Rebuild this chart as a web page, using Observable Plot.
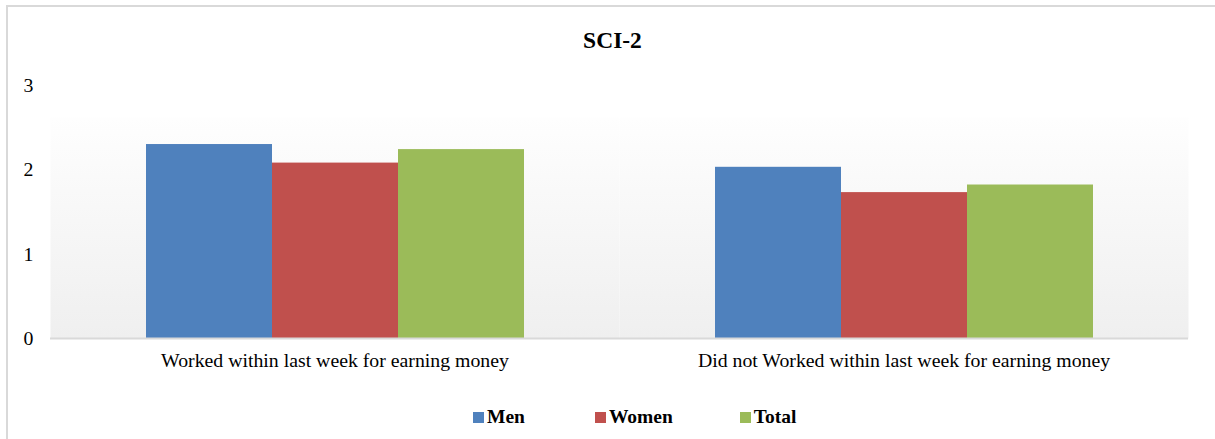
<!DOCTYPE html>
<html>
<head>
<meta charset="utf-8">
<script src="https://cdn.jsdelivr.net/npm/d3@7"></script>
<script src="https://cdn.jsdelivr.net/npm/@observablehq/plot@0.6"></script>
<style>
  body { margin: 0; background: #fff; overflow: hidden; }
  #wrap { position: relative; width: 1215px; height: 439px; overflow: hidden;
          font-family: "Liberation Serif", "Times New Roman", serif; color: #000; }
  #border { position: absolute; left: 6px; top: 5px; width: 1230px; height: 460px;
            border: 2px solid #d9d9d9; box-sizing: border-box; }
  #title { position: absolute; top: 29px; left: 0; width: 1225px; text-align: center;
           font-weight: bold; font-size: 23.5px; line-height: 23.5px; }
  #chart { position: absolute; top: 70px; left: 0; }
  #legend { position: absolute; top: 407px; left: 473px; display: flex; align-items: center;
            font-weight: bold; font-size: 19.5px; line-height: 20px; }
  .item { display: flex; align-items: center; }
  .sw { width: 11px; height: 11px; margin-right: 3px; }
</style>
</head>
<body>
<div id="wrap">
  <div id="border"></div>
  <div id="title">SCI-2</div>
  <div id="chart"></div>
  <div id="legend"></div>
</div>
<script>
const categories = [
  "Worked within last week for earning money",
  "Did not Worked within last week for earning money"
];
const series = ["Men", "Women", "Total"];
const menValues = [2.30, 2.03];
const womenValues = [2.08, 1.73];
const totalValues = [2.24, 1.82];
const yTicks = [0, 1, 2, 3];
const colors = ["#4f81bd", "#c0504d", "#9bbb59"];

const valuesBySeries = [menValues, womenValues, totalValues];
const rows = [];
categories.forEach((c, i) => {
  series.forEach((s, j) => rows.push({category: c, series: s, value: valuesBySeries[j][i]}));
});

const font = '"Liberation Serif", "Times New Roman", serif';

const chart = Plot.plot({
  width: 1215,
  height: 310,
  marginTop: 15,
  marginBottom: 42,
  marginLeft: 50,
  marginRight: 27,
  style: { fontFamily: font, fontSize: "19.8px", color: "#000", background: "transparent", overflow: "visible" },
  fx: { domain: categories, padding: 0, axis: "bottom", label: null, tickSize: 0, tickPadding: 14 },
  x: { domain: series, paddingInner: 0, paddingOuter: 0.746, axis: null },
  y: { domain: [0, 3], ticks: yTicks, tickFormat: "d", tickSize: 0, tickPadding: 17, label: null },
  color: { domain: series, range: colors },
  marks: [
    Plot.frame({ fill: "url(#bgGrad)" }),
    Plot.barY(rows, { fx: "category", x: "series", y: "value", fill: "series" }),
    Plot.ruleY([0], { stroke: "#d9d9d9", strokeWidth: 2 })
  ]
});

d3.select(chart).insert("defs", ":first-child").html(
  '<linearGradient id="bgGrad" x1="0" y1="0" x2="0" y2="1">' +
  '<stop offset="0" stop-color="#ffffff"/>' +
  '<stop offset="0.126" stop-color="#ffffff"/>' +
  '<stop offset="0.127" stop-color="#fefefe"/>' +
  '<stop offset="1" stop-color="#efefef"/>' +
  '</linearGradient>'
);
document.getElementById("chart").appendChild(chart);

const legend = document.getElementById("legend");
const legendGaps = [70, 67, 0];
series.forEach((s, i) => {
  const item = document.createElement("div");
  item.className = "item";
  item.style.marginRight = legendGaps[i] + "px";
  const sw = document.createElement("span");
  sw.className = "sw";
  sw.style.background = colors[i];
  const label = document.createElement("span");
  label.textContent = s;
  item.appendChild(sw);
  item.appendChild(label);
  legend.appendChild(item);
});
</script>
</body>
</html>
